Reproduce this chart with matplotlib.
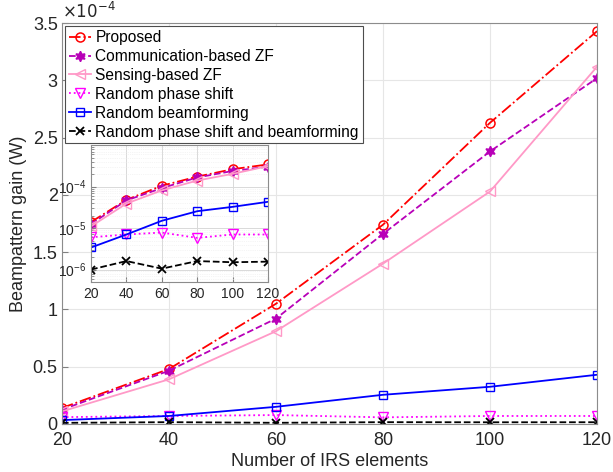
import matplotlib.pyplot as plt
from matplotlib.ticker import FuncFormatter, LogLocator, NullFormatter
import numpy as np

plt.rcParams['font.family'] = ['Liberation Sans', 'DejaVu Sans']

N = [20, 40, 60, 80, 100, 120]                       # number of IRS elements

# beampattern gain in W
proposed  = [1.40e-5, 4.80e-5, 1.05e-4, 1.74e-4, 2.63e-4, 3.43e-4]
comm_zf   = [1.25e-5, 4.65e-5, 9.20e-5, 1.66e-4, 2.38e-4, 3.02e-4]
sens_zf   = [1.10e-5, 3.90e-5, 8.10e-5, 1.40e-4, 2.03e-4, 3.12e-4]
rand_ps   = [6.0e-6, 7.0e-6, 7.8e-6, 5.8e-6, 7.0e-6, 7.0e-6]
rand_bf   = [3.4e-6, 7.0e-6, 1.50e-5, 2.55e-5, 3.25e-5, 4.30e-5]
rand_both = [1.0e-6, 1.6e-6, 1.05e-6, 1.6e-6, 1.5e-6, 1.55e-6]

labels = ["Proposed", "Communication-based ZF", "Sensing-based ZF",
          "Random phase shift", "Random beamforming",
          "Random phase shift and beamforming"]

purple = (0.72, 0.0, 0.72)
pink = (1.0, 0.6, 0.78)
styles = [
    dict(color='red', ls='-.', marker='o', mfc='none', ms=6.5, mew=1.1),
    dict(color=purple, ls='--', marker=(6, 1, 0), mfc=purple, ms=7.5),
    dict(color=pink, ls='-', marker='<', mfc='none', ms=7.5, mew=1.0),
    dict(color='magenta', ls=':', marker='v', mfc='none', ms=7.5, mew=1.0),
    dict(color='blue', ls='-', marker='s', mfc='none', ms=6, mew=1.0),
    dict(color='black', ls='--', marker='x', ms=5.5, mew=1.3),
]
series = [proposed, comm_zf, sens_zf, rand_ps, rand_bf, rand_both]

fig = plt.figure(figsize=(6.13, 4.72), dpi=100)
ax = fig.add_axes([0.101, 0.1017, 0.873, 0.8493])

for y, lab, st in zip(series, labels, styles):
    ax.plot(N, y, label=lab, lw=1.3, **st)

ax.set_xlim(20, 120)
ax.set_ylim(0, 3.5e-4)
ax.set_xticks(N)
ax.set_yticks(np.arange(0, 3.51e-4, 0.5e-4))
ax.yaxis.set_major_formatter(FuncFormatter(lambda v, p: '%g' % round(v / 1e-4, 2)))
ax.tick_params(direction='in', labelsize=13, color='0.5', length=4, labelcolor='0.15')
ax.tick_params(axis='x', pad=6)
ax.tick_params(axis='y', pad=3)
ax.grid(True, color='0.9', lw=0.8)
for s in ax.spines.values():
    s.set_color('0.55')
ax.set_xlabel("Number of IRS elements", fontsize=13, color='0.15', labelpad=3)
ax.set_ylabel("Beampattern gain (W)", fontsize=13, color='0.15', labelpad=4)
ax.text(0.0, 1.005, r'$\times 10^{-4}$', transform=ax.transAxes, fontsize=12,
        ha='left', va='bottom', color='0.15')

leg = ax.legend(loc='upper left', fontsize=11.2, handlelength=1.4, handletextpad=0.3,
                borderpad=0.25, labelspacing=0.25, fancybox=False, framealpha=1,
                borderaxespad=0.2)
leg.get_frame().set_edgecolor('0.3')
leg.get_frame().set_linewidth(0.8)

# inset with log scale
ins = fig.add_axes([0.1485, 0.4025, 0.2887, 0.29])
for y, st in zip(series, styles):
    ins.plot(N, y, lw=1.3, **st)
ins.set_yscale('log')
ins.set_xlim(20, 120)
ins.set_ylim(5e-7, 1e-3)
ins.set_xticks(N)
ins.set_yticks([1e-6, 1e-5, 1e-4])
ins.yaxis.set_minor_locator(LogLocator(subs=np.arange(2, 10)))
ins.yaxis.set_minor_formatter(NullFormatter())
ins.tick_params(which='both', direction='in', labelsize=10, color='0.5', labelcolor='0.15')
ins.grid(True, which='major', color='0.85', lw=0.7)
ins.grid(True, which='minor', color='0.92', lw=0.5, ls=':')
for s in ins.spines.values():
    s.set_color('0.55')
ins.patch.set_facecolor('white')

fig.savefig("out.png", dpi=100)
